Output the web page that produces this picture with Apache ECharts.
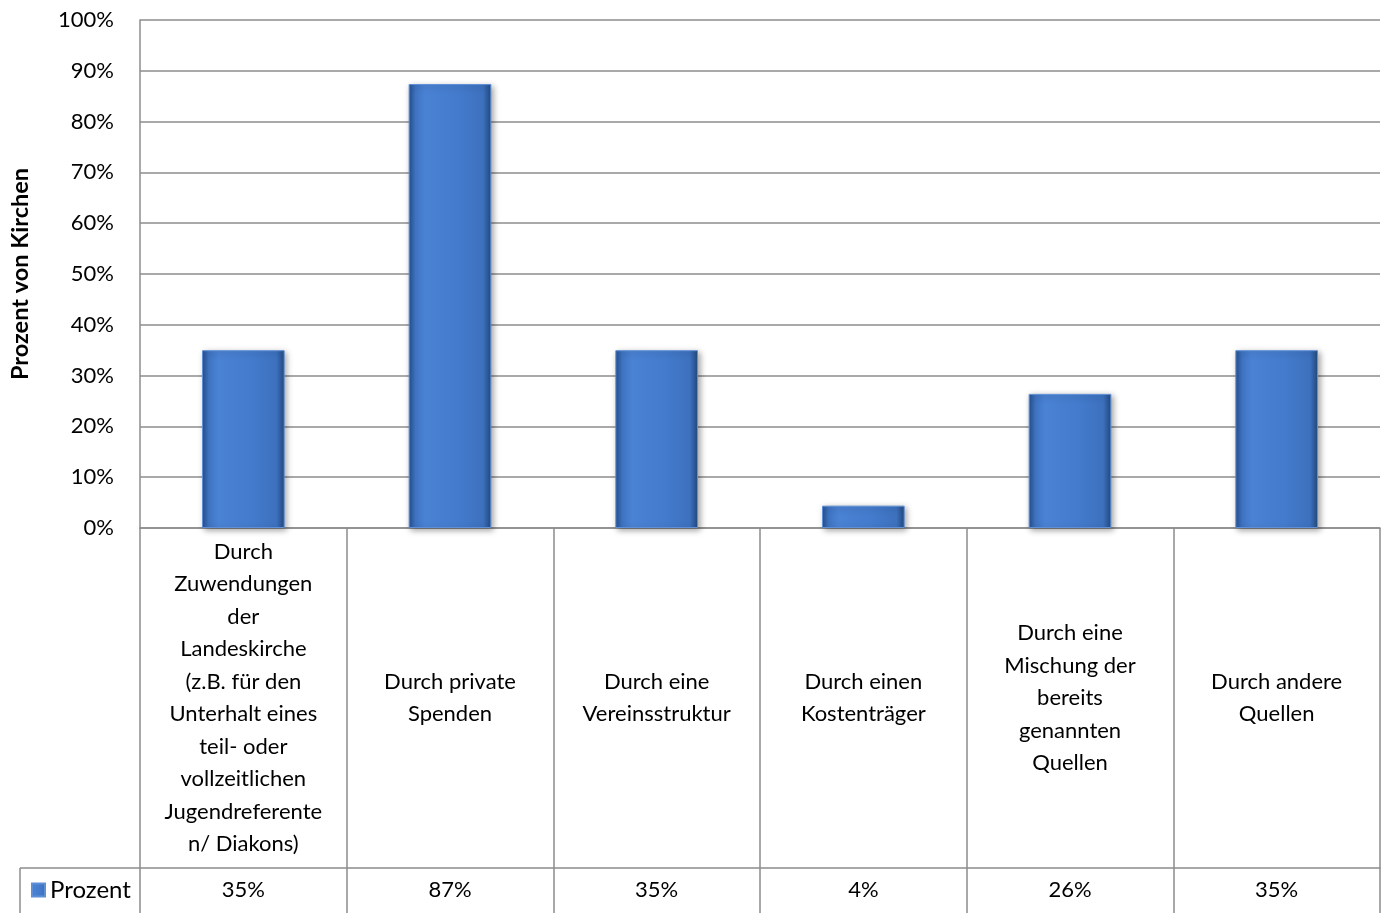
<!DOCTYPE html>
<html>
<head>
<meta charset="utf-8">
<script src="https://cdn.jsdelivr.net/npm/echarts@6/dist/echarts.min.js"></script>
<style>
html,body{margin:0;padding:0;background:#fff;}
#chart{width:1382px;height:913px;}
</style>
</head>
<body>
<div id="chart"></div>
<script>
const categories = [
  "Durch\nZuwendungen\nder\nLandeskirche\n(z.B. für den\nUnterhalt eines\nteil- oder\nvollzeitlichen\nJugendreferente\nn/ Diakons)",
  "Durch private\nSpenden",
  "Durch eine\nVereinsstruktur",
  "Durch einen\nKostenträger",
  "Durch eine\nMischung der\nbereits\ngenannten\nQuellen",
  "Durch andere\nQuellen"
];
const values = [35.0, 87.4, 35.0, 4.4, 26.4, 35.0];
const seriesName = "Prozent";
const yTicks = [0, 10, 20, 30, 40, 50, 60, 70, 80, 90, 100];

const valueLabels = values.map(v => Math.round(v) + "%");
const FONT = "Lato";
const GRID = "#8c8c8c";

const chart = echarts.init(document.getElementById('chart'));
const barColor = new echarts.graphic.LinearGradient(0, 0, 1, 0, [
  {offset: 0, color: '#244f8f'},
  {offset: 0.08, color: '#3f74c2'},
  {offset: 0.2, color: '#4a82d4'},
  {offset: 0.6, color: '#447bcc'},
  {offset: 0.9, color: '#3d71be'},
  {offset: 1, color: '#22497f'}
]);
chart.setOption({
  animation: false,
  backgroundColor: '#fff',
  textStyle: {fontFamily: FONT, color: '#000'},
  legend: {
    data: [seriesName],
    left: 26, top: 873,
    icon: 'rect', itemWidth: 13, itemHeight: 13, itemGap: 8,
    textStyle: {fontFamily: FONT, fontSize: 24, color: '#000'}
  },
  grid: {left: 140, right: 2, top: 20, bottom: 385, containLabel: false},
  xAxis: [{
    type: 'category',
    data: categories,
    position: 'bottom',
    axisLine: {show: true, lineStyle: {color: GRID, width: 1.5}},
    axisTick: {show: true, alignWithLabel: false, length: 390, lineStyle: {color: GRID, width: 1.5}},
    axisLabel: {
      interval: 0, margin: 170, verticalAlign: 'middle', align: 'center',
      fontFamily: FONT, fontSize: 22, lineHeight: 32.5, color: '#000'
    }
  }, {
    type: 'category',
    data: valueLabels,
    position: 'bottom',
    offset: 340,
    axisLine: {show: true, lineStyle: {color: GRID, width: 1.5}},
    axisTick: {show: false},
    axisLabel: {
      interval: 0, margin: 22, verticalAlign: 'middle', align: 'center',
      fontFamily: FONT, fontSize: 22, color: '#000'
    }
  }],
  yAxis: {
    type: 'value',
    min: 0, max: 100, interval: 10,
    name: 'Prozent von Kirchen',
    nameLocation: 'middle',
    nameGap: 108,
    nameTextStyle: {fontFamily: FONT, fontWeight: 'bold', fontSize: 23.5, color: '#000'},
    axisLine: {show: true, lineStyle: {color: GRID, width: 1.5}},
    axisTick: {show: false},
    axisLabel: {
      formatter: v => v + '%', margin: 26,
      fontFamily: FONT, fontSize: 22, color: '#000'
    },
    splitLine: {show: true, lineStyle: {color: GRID, width: 1.5}}
  },
  graphic: [
    {type: 'line', shape: {x1: 20, y1: 868, x2: 140, y2: 868}, style: {stroke: GRID, lineWidth: 1.5}},
    {type: 'line', shape: {x1: 20, y1: 868, x2: 20, y2: 913}, style: {stroke: GRID, lineWidth: 1.5}}
  ],
  series: [{
    name: seriesName,
    type: 'bar',
    xAxisIndex: 0,
    data: values,
    barWidth: '40%',
    itemStyle: {
      color: barColor,
      borderColor: '#5f8fd6',
      borderWidth: 1,
      shadowColor: 'rgba(0,0,0,0.35)',
      shadowBlur: 6,
      shadowOffsetX: 2,
      shadowOffsetY: 2
    }
  }]
});
</script>
</body>
</html>
